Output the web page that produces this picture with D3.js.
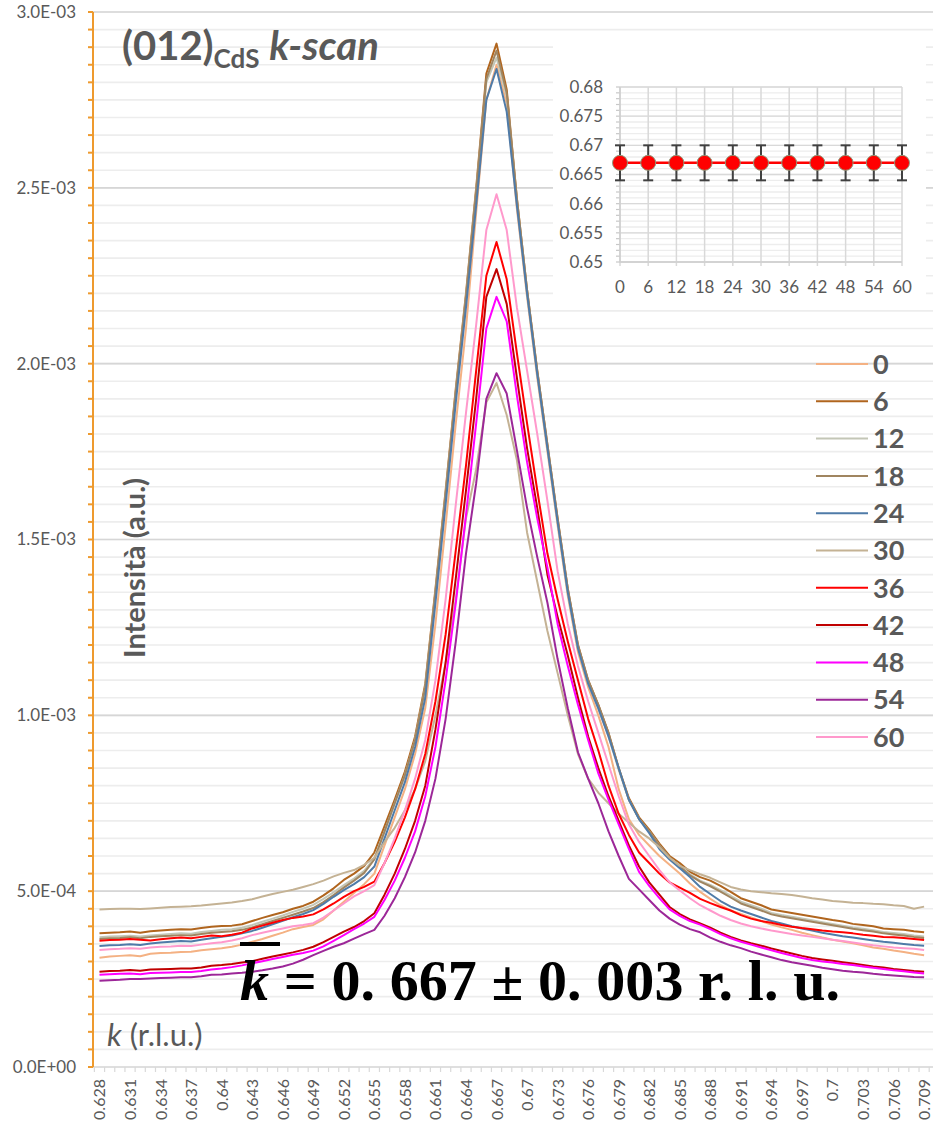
<!DOCTYPE html>
<html><head><meta charset="utf-8">
<script src="https://cdn.jsdelivr.net/npm/d3@7"></script>
<style>
body{margin:0;background:#fff}
svg{display:block}
text{font-family:Lato,"Open Sans",sans-serif}
</style>
</head><body>
<svg id="c" width="933" height="1121"></svg>
<script>
// ---------- DATA ----------
const kValues = [0.628,0.629,0.630,0.631,0.632,0.633,0.634,0.635,0.636,0.637,0.638,0.639,0.640,0.641,0.642,0.643,0.644,0.645,0.646,0.647,0.648,0.649,0.650,0.651,0.652,0.653,0.654,0.655,0.656,0.657,0.658,0.659,0.660,0.661,0.662,0.663,0.664,0.665,0.666,0.667,0.668,0.669,0.670,0.671,0.672,0.673,0.674,0.675,0.676,0.677,0.678,0.679,0.680,0.681,0.682,0.683,0.684,0.685,0.686,0.687,0.688,0.689,0.690,0.691,0.692,0.693,0.694,0.695,0.696,0.697,0.698,0.699,0.700,0.701,0.702,0.703,0.704,0.705,0.706,0.707,0.708,0.709];
const seriesNames = ["0","6","12","18","24","30","36","42","48","54","60"];
const seriesColors = ["#f4b183","#b0651e","#c3c6b6","#a08560","#4f7ba8","#c4b294","#ff0000","#c00000","#ff00ff","#9c2798","#ff99cc"];
const UNIT = 1e-4; // values below are in units of 1e-4 (a.u.)
const s0 = [3.11,3.14,3.16,3.18,3.15,3.22,3.24,3.25,3.27,3.28,3.32,3.35,3.38,3.42,3.48,
 3.56,3.64,3.73,3.82,3.92,3.98,4.04,4.20,4.45,4.70,4.95,5.20,
 5.50,6.30,7.10,7.90,8.90,10.20,12.60,15.40,18.30,21.00,24.30,27.50,
 28.50,27.40,24.40,21.90,19.60,17.50,15.40,13.40,11.80,10.80,10.00,9.10,
 7.90,7.05,6.60,6.30,6.00,5.75,5.50,5.22,4.98,4.78,4.60,4.45,
 4.35,4.25,4.15,4.05,3.97,3.90,3.82,3.75,3.68,3.62,3.57,3.52,3.46,3.40,3.36,3.31,3.27,3.22,3.18];
const s6 = [3.80,3.82,3.83,3.85,3.82,3.86,3.88,3.90,3.92,3.91,3.95,3.99,4.01,4.02,4.06,
 4.15,4.24,4.32,4.40,4.50,4.58,4.70,4.88,5.08,5.32,5.50,5.72,
 6.10,6.85,7.60,8.40,9.40,10.90,13.60,16.40,19.30,22.00,25.00,28.25,
 29.10,27.80,24.70,22.10,19.80,17.70,15.60,13.60,12.00,11.00,10.30,9.50,
 8.50,7.65,7.10,6.75,6.35,6.00,5.80,5.55,5.40,5.30,5.15,4.98,
 4.80,4.70,4.60,4.48,4.43,4.38,4.33,4.28,4.23,4.18,4.14,4.07,4.04,4.00,3.94,3.92,3.90,3.86,3.83];
const s12 = [3.69,3.71,3.72,3.73,3.71,3.74,3.76,3.78,3.80,3.79,3.84,3.87,3.90,3.92,3.96,
 4.04,4.13,4.22,4.31,4.41,4.50,4.61,4.78,4.97,5.17,5.36,5.58,
 5.95,6.70,7.50,8.30,9.30,10.80,13.50,16.30,19.20,21.90,24.90,28.00,
 28.70,27.60,24.60,22.00,19.70,17.60,15.50,13.50,11.90,10.90,10.20,9.40,
 8.45,7.60,7.05,6.70,6.30,5.95,5.72,5.48,5.30,5.18,5.03,4.87,
 4.70,4.60,4.50,4.38,4.32,4.27,4.22,4.17,4.12,4.07,4.02,3.97,3.93,3.89,3.84,3.81,3.78,3.74,3.71];
const s18 = [3.64,3.66,3.67,3.69,3.66,3.70,3.72,3.73,3.75,3.74,3.78,3.82,3.84,3.86,3.90,
 3.97,4.06,4.15,4.24,4.33,4.42,4.52,4.69,4.89,5.10,5.30,5.52,
 5.90,6.70,7.50,8.30,9.30,10.80,13.50,16.30,19.20,21.90,24.90,28.10,
 28.90,27.70,24.70,22.10,19.80,17.70,15.60,13.60,12.00,11.00,10.30,9.50,
 8.50,7.60,7.05,6.70,6.30,5.95,5.70,5.45,5.27,5.14,4.99,4.82,
 4.65,4.55,4.45,4.34,4.28,4.23,4.18,4.13,4.08,4.03,3.98,3.93,3.89,3.85,3.80,3.77,3.74,3.70,3.67];
const s24 = [3.44,3.46,3.47,3.49,3.47,3.51,3.54,3.56,3.58,3.57,3.62,3.66,3.70,3.74,3.80,
 3.87,3.96,4.06,4.16,4.26,4.35,4.46,4.64,4.84,5.03,5.20,5.40,
 5.70,6.50,7.30,8.10,9.10,10.50,13.20,16.00,18.90,21.60,24.50,27.50,
 28.38,27.16,24.50,22.00,19.70,17.60,15.50,13.50,11.90,10.90,10.20,9.40,
 8.50,7.60,7.05,6.65,6.20,5.90,5.65,5.40,5.12,4.92,4.72,4.56,
 4.45,4.35,4.25,4.15,4.08,4.00,3.94,3.88,3.82,3.77,3.72,3.68,3.64,3.60,3.56,3.53,3.50,3.47,3.45];
const s30 = [4.48,4.49,4.50,4.50,4.49,4.51,4.53,4.55,4.56,4.57,4.59,4.62,4.65,4.68,4.72,
 4.77,4.85,4.92,4.98,5.04,5.12,5.20,5.30,5.42,5.52,5.60,5.75,
 5.95,6.40,6.80,7.30,7.90,8.70,10.00,11.50,13.30,15.60,17.00,18.90,
 19.45,18.54,17.26,15.20,13.80,12.40,11.20,10.00,8.90,8.20,7.80,7.50,
 7.20,6.95,6.70,6.50,6.25,5.95,5.72,5.60,5.48,5.38,5.25,5.12,
 5.05,5.00,4.97,4.94,4.92,4.89,4.85,4.80,4.76,4.72,4.70,4.67,4.66,4.64,4.63,4.60,4.58,4.50,4.56];
const s36 = [3.59,3.61,3.62,3.64,3.62,3.60,3.63,3.66,3.68,3.66,3.70,3.74,3.72,3.76,3.82,
 3.94,4.02,4.10,4.18,4.24,4.28,4.34,4.48,4.65,4.84,5.00,5.12,
 5.27,5.80,6.40,7.10,7.90,8.90,10.40,12.30,14.70,17.10,19.80,22.50,
 23.46,22.40,20.30,18.30,16.40,14.60,13.30,12.10,11.00,9.90,9.00,8.00,
 7.20,6.60,6.10,5.80,5.50,5.25,5.10,4.95,4.78,4.66,4.55,4.45,
 4.32,4.22,4.15,4.10,4.04,3.99,3.95,3.92,3.88,3.85,3.83,3.80,3.76,3.73,3.70,3.69,3.67,3.64,3.61];
const s42 = [2.71,2.73,2.74,2.76,2.74,2.77,2.78,2.79,2.80,2.80,2.83,2.88,2.90,2.93,2.97,
 3.01,3.08,3.14,3.20,3.26,3.33,3.42,3.55,3.70,3.85,3.98,4.15,
 4.37,4.90,5.50,6.20,7.00,8.00,9.60,11.50,13.90,16.40,19.00,21.90,
 22.69,21.70,19.60,17.60,15.90,14.00,12.80,11.70,10.50,9.40,8.50,7.70,
 7.00,6.30,5.70,5.25,4.90,4.55,4.35,4.20,4.08,3.96,3.82,3.70,
 3.60,3.52,3.45,3.37,3.30,3.23,3.16,3.10,3.06,3.02,2.98,2.94,2.90,2.86,2.83,2.79,2.76,2.73,2.71];
const s48 = [2.62,2.64,2.65,2.66,2.64,2.67,2.68,2.69,2.70,2.70,2.73,2.77,2.80,2.84,2.89,
 2.95,3.01,3.07,3.13,3.19,3.24,3.31,3.43,3.59,3.75,3.92,4.08,
 4.27,4.75,5.30,5.95,6.70,7.70,9.10,11.00,13.20,15.70,18.30,21.00,
 21.90,21.20,19.10,17.20,15.60,14.20,12.60,11.40,10.30,9.30,8.35,7.60,
 6.90,6.20,5.55,5.15,4.80,4.48,4.30,4.15,4.05,3.92,3.78,3.66,
 3.56,3.48,3.40,3.32,3.24,3.17,3.10,3.04,3.00,2.97,2.93,2.90,2.86,2.82,2.79,2.75,2.72,2.69,2.66];
const s54 = [2.45,2.47,2.48,2.50,2.50,2.52,2.53,2.54,2.55,2.55,2.58,2.62,2.63,2.66,2.68,
 2.71,2.75,2.80,2.86,2.94,3.05,3.18,3.30,3.42,3.52,3.65,3.78,
 3.90,4.30,4.80,5.40,6.10,7.00,8.20,9.90,12.10,14.60,16.60,19.00,
 19.73,19.15,17.54,15.90,14.50,13.20,11.60,10.20,8.95,8.20,7.50,6.70,
 6.00,5.35,5.05,4.75,4.45,4.22,4.05,3.92,3.83,3.68,3.56,3.46,
 3.38,3.28,3.20,3.12,3.04,2.98,2.93,2.88,2.82,2.78,2.74,2.71,2.69,2.65,2.62,2.60,2.58,2.56,2.55];
const s60 = [3.33,3.35,3.36,3.38,3.36,3.40,3.42,3.43,3.45,3.44,3.48,3.52,3.55,3.60,3.66,
 3.75,3.82,3.88,3.94,4.00,4.04,4.09,4.25,4.45,4.65,4.85,5.00,
 5.17,5.80,6.50,7.30,8.20,9.30,11.00,13.30,16.00,18.60,21.10,23.80,
 24.82,23.80,21.60,19.80,18.00,16.10,14.10,12.60,11.40,10.40,9.50,8.60,
 7.70,6.90,6.40,6.00,5.60,5.25,5.02,4.80,4.60,4.45,4.30,4.18,
 4.08,4.00,3.94,3.88,3.83,3.78,3.74,3.70,3.66,3.62,3.58,3.54,3.50,3.46,3.43,3.40,3.38,3.36,3.33];
const seriesValues = [s0,s6,s12,s18,s24,s30,s36,s42,s48,s54,s60];

const yTickValues = [0,0.0005,0.001,0.0015,0.002,0.0025,0.003];
const yTickLabels = ["0.0E+00","5.0E-04","1.0E-03","1.5E-03","2.0E-03","2.5E-03","3.0E-03"];

// inset
const insetTimes = [0,6,12,18,24,30,36,42,48,54,60];
const insetK = [0.667,0.667,0.667,0.667,0.667,0.667,0.667,0.667,0.667,0.667,0.667];
const insetErr = [0.003,0.003,0.003,0.003,0.003,0.003,0.003,0.003,0.003,0.003,0.003];
const insetYTicks = [0.65,0.655,0.66,0.665,0.67,0.675,0.68];
const insetYLabels = ["0.65","0.655","0.66","0.665","0.67","0.675","0.68"];

// ---------- DRAW ----------
const svg = d3.select("#c");
const TXT = "#595959";
const AX = 93;            // y-axis line
const L = 94.4, R = 929.2, T = 12, B = 1067;

const x = d3.scaleBand().domain(kValues.map(String)).range([L, R]).padding(0);
const xc = k => x(String(k)) + x.bandwidth()/2;
const y = d3.scaleLinear().domain([0, 0.003]).range([B, T]);

// gridlines
const minorVals = d3.range(0, 0.0030001, 0.00005);
svg.append("g").selectAll("line").data(minorVals).join("line")
  .attr("x1", AX).attr("x2", 933).attr("y1", d=>y(d)).attr("y2", d=>y(d))
  .attr("stroke", "#ededed").attr("stroke-width", 1.6);
svg.append("g").selectAll("line").data(yTickValues.slice(1)).join("line")
  .attr("x1", AX).attr("x2", 933).attr("y1", d=>y(d)).attr("y2", d=>y(d))
  .attr("stroke", "#d6d6d6").attr("stroke-width", 1.6);

// x axis
const xAxisG = svg.append("g");
xAxisG.append("line").attr("x1", AX).attr("x2", 933).attr("y1", B).attr("y2", B)
  .attr("stroke", "#d9d9d9").attr("stroke-width", 1.5);
const bounds = kValues.map(k => x(String(k))).concat([R]);
xAxisG.selectAll("line.t").data(bounds).join("line").attr("class","t")
  .attr("x1", d=>d).attr("x2", d=>d).attr("y1", B).attr("y2", B+5)
  .attr("stroke", "#d9d9d9").attr("stroke-width", 1.2);
xAxisG.selectAll("text").data(kValues.filter((k,i)=>i%3===0)).join("text")
  .attr("transform", d=>`translate(${xc(d)+6},1079) rotate(-90)`)
  .attr("text-anchor","end").attr("font-size",16).attr("fill",TXT)
  .text(d=>String(+d.toFixed(3)));

// y axis (orange)
const yAxisG = svg.append("g");
yAxisG.append("line").attr("x1", AX).attr("x2", AX).attr("y1", T).attr("y2", B)
  .attr("stroke", "#ee9a2e").attr("stroke-width", 2);
yAxisG.selectAll("line.t").data(minorVals).join("line").attr("class","t")
  .attr("x1", AX-5).attr("x2", AX).attr("y1", d=>y(d)).attr("y2", d=>y(d))
  .attr("stroke", "#ee9a2e").attr("stroke-width", 2);
yAxisG.selectAll("text").data(yTickValues).join("text")
  .attr("x", 76).attr("y", d=>y(d)).attr("dy","0.35em")
  .attr("text-anchor","end").attr("font-size",17).attr("fill",TXT)
  .text((d,i)=>yTickLabels[i]);

// series lines
const line = d3.line().x((d,i)=>xc(kValues[i])).y(d=>y(d*UNIT));
svg.append("g").selectAll("path").data(seriesValues).join("path")
  .attr("d", d=>line(d)).attr("fill","none")
  .attr("stroke",(d,i)=>seriesColors[i]).attr("stroke-width",2)
  .attr("stroke-linejoin","round");

// legend
const lg = svg.append("g");
seriesNames.forEach((n,i)=>{
  const yy = 364 + i*37.3;
  lg.append("line").attr("x1",816).attr("x2",868).attr("y1",yy).attr("y2",yy)
    .attr("stroke",seriesColors[i]).attr("stroke-width",2);
  lg.append("text").attr("x",873).attr("y",yy).attr("dy","0.36em")
    .attr("font-size",27).attr("font-weight","bold").attr("fill",TXT).text(n);
});

// title
const title = svg.append("text").attr("x",122).attr("y",60).attr("fill",TXT)
  .attr("font-weight","bold").attr("font-size",40);
title.append("tspan").text("(012)");
title.append("tspan").attr("font-size",26).attr("dy",8).text("CdS");
title.append("tspan").attr("dy",-8).text(" ");
title.append("tspan").attr("font-style","italic").text("k-scan");

// y axis title
svg.append("text").attr("transform","translate(145,568) rotate(-90)")
  .attr("text-anchor","middle").attr("font-weight","bold").attr("font-size",29)
  .attr("fill",TXT).text("Intensità (a.u.)");

// x axis title
const xt = svg.append("text").attr("x",107).attr("y",1046).attr("font-size",31).attr("fill",TXT);
xt.append("tspan").attr("font-style","italic").text("k");
xt.append("tspan").text(" (r.l.u.)");

// formula
const f = svg.append("text").attr("x",240).attr("y",1000)
  .style("font-family","'Liberation Serif','DejaVu Serif',serif").attr("font-weight","bold")
  .attr("font-size",58).attr("fill","#000").attr("textLength",600).attr("lengthAdjust","spacing")
  .text("");
f.append("tspan").attr("font-style","italic").text("k");
f.append("tspan").text(" = 0. 667 ± 0. 003 r. l. u.");
svg.append("line").attr("x1",240).attr("x2",280).attr("y1",944).attr("y2",944)
  .attr("stroke","#000").attr("stroke-width",4);

// ---------- INSET ----------
const ig = svg.append("g");
ig.append("rect").attr("x",553).attr("y",37).attr("width",373).attr("height",270).attr("fill","#fff");
const ix = d3.scaleLinear().domain([0,60]).range([620,902]);
const iy = d3.scaleLinear().domain([0.65,0.68]).range([262,87]);
const iMinor = d3.range(0.65,0.68001,0.001);
ig.append("g").selectAll("line").data(iMinor).join("line")
  .attr("x1",620).attr("x2",902).attr("y1",d=>iy(d)).attr("y2",d=>iy(d))
  .attr("stroke","#ededed").attr("stroke-width",1.3);
ig.append("g").selectAll("line").data(insetYTicks).join("line")
  .attr("x1",620).attr("x2",902).attr("y1",d=>iy(d)).attr("y2",d=>iy(d))
  .attr("stroke","#d9d9d9").attr("stroke-width",1.3);
ig.append("g").selectAll("line").data(insetTimes).join("line")
  .attr("x1",d=>ix(d)).attr("x2",d=>ix(d)).attr("y1",87).attr("y2",266)
  .attr("stroke","#d9d9d9").attr("stroke-width",1.5);
ig.append("g").selectAll("line").data(iMinor).join("line")
  .attr("x1",616).attr("x2",620).attr("y1",d=>iy(d)).attr("y2",d=>iy(d))
  .attr("stroke","#c8c8c8").attr("stroke-width",1.2);
ig.append("line").attr("x1",620).attr("x2",620).attr("y1",87).attr("y2",262)
  .attr("stroke","#cfcfcf").attr("stroke-width",1.5);
ig.append("line").attr("x1",620).attr("x2",902).attr("y1",262).attr("y2",262)
  .attr("stroke","#cfcfcf").attr("stroke-width",1.5);
ig.append("g").selectAll("text").data(insetYTicks).join("text")
  .attr("x",603).attr("y",d=>iy(d)).attr("dy","0.35em").attr("text-anchor","end")
  .attr("font-size",17).attr("fill",TXT).text((d,i)=>insetYLabels[i]);
ig.append("g").selectAll("text").data(insetTimes).join("text")
  .attr("x",d=>ix(d)).attr("y",293).attr("text-anchor","middle")
  .attr("font-size",17).attr("fill",TXT).text(d=>d);
// error bars
const eb = ig.append("g").attr("stroke","#404040").attr("stroke-width",2);
insetTimes.forEach((t,i)=>{
  const cx = ix(t), y1 = iy(insetK[i]-insetErr[i]), y2 = iy(insetK[i]+insetErr[i]);
  eb.append("line").attr("x1",cx).attr("x2",cx).attr("y1",y1).attr("y2",y2);
  eb.append("line").attr("x1",cx-5).attr("x2",cx+5).attr("y1",y1).attr("y2",y1);
  eb.append("line").attr("x1",cx-5).attr("x2",cx+5).attr("y1",y2).attr("y2",y2);
});
ig.append("path").attr("d", d3.line().x((d,i)=>ix(insetTimes[i])).y(d=>iy(d))(insetK))
  .attr("fill","none").attr("stroke","#ff0000").attr("stroke-width",2.5);
ig.append("g").selectAll("circle").data(insetK).join("circle")
  .attr("cx",(d,i)=>ix(insetTimes[i])).attr("cy",d=>iy(d)).attr("r",7.5)
  .attr("fill","#ff0000").attr("stroke","#8c9c7c").attr("stroke-width",1);
</script>
</body></html>
